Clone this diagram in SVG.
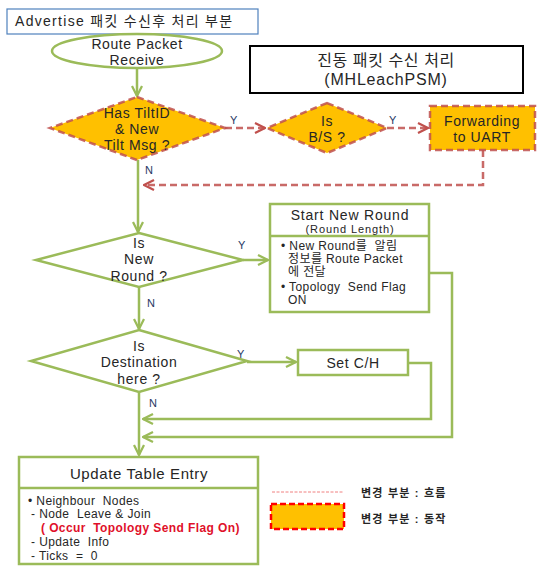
<svg xmlns="http://www.w3.org/2000/svg" width="538" height="566" viewBox="0 0 538 566">
  <defs>
    <style>
      text { font-family: "Liberation Sans", "Noto Sans CJK KR", sans-serif; fill: #262626; }
      .g { fill: #ffffff; stroke: #9bbb59; stroke-width: 2.5; }
      .gl { fill: none; stroke: #9bbb59; stroke-width: 2.5; }
      .chg { fill: #ffc000; stroke: #c0504d; stroke-width: 2.5; stroke-dasharray: 7 4; stroke-opacity: 0.85; }
      .dl { fill: none; stroke: #c0504d; stroke-width: 2.5; stroke-dasharray: 7 4; stroke-opacity: 0.85; }
      .t13 { font-size: 14px; letter-spacing: 0.6px; text-anchor: middle; }
      .lbl { font-size: 11px; fill: #1f3864; }
      .body { font-size: 12px; letter-spacing: 0.4px; white-space: pre; }
      .leg { font-size: 11px; font-weight: bold; letter-spacing: 1.2px; }
    </style>
    <marker id="ag" viewBox="0 0 10 10" refX="9" refY="5" markerWidth="5" markerHeight="5" orient="auto" markerUnits="strokeWidth">
      <path d="M1,1 L9,5 L1,9" fill="none" stroke="#9bbb59" stroke-width="1.8"/>
    </marker>
    <marker id="ar" viewBox="0 0 10 10" refX="9" refY="5" markerWidth="5" markerHeight="5" orient="auto" markerUnits="strokeWidth">
      <path d="M1,1 L9,5 L1,9" fill="none" stroke="#c0504d" stroke-width="1.8"/>
    </marker>
  </defs>

  <rect width="538" height="566" fill="#ffffff"/>

  <!-- section title -->
  <g id="title">
    <rect x="7" y="9" width="251" height="25" fill="#ffffff" stroke="#4f81bd" stroke-width="1.2"/>
    <text x="15" y="26" font-size="14" letter-spacing="1.3">Advertise 패킷 수신후 처리 부분</text>
  </g>

  <!-- module heading -->
  <g id="heading">
    <rect x="250" y="46" width="273" height="47" fill="#ffffff" stroke="#000000" stroke-width="2"/>
    <text x="386" y="66" font-size="16" letter-spacing="0.6" text-anchor="middle">진동 패킷 수신 처리</text>
    <text x="386" y="85" font-size="16" letter-spacing="0.8" text-anchor="middle">(MHLeachPSM)</text>
  </g>

  <!-- connectors -->
  <g id="connectors">
    <line class="gl" x1="137" y1="69" x2="137" y2="96" marker-end="url(#ag)"/>
    <line class="dl" x1="225" y1="128" x2="265" y2="128" marker-end="url(#ar)"/>
    <line class="dl" x1="387" y1="128" x2="428" y2="128" marker-end="url(#ar)"/>
    <polyline class="dl" points="483,150 483,185 144,185" marker-end="url(#ar)"/>
    <line class="gl" x1="138" y1="160" x2="138" y2="232" marker-end="url(#ag)"/>
    <line class="gl" x1="243" y1="260" x2="268" y2="260" marker-end="url(#ag)"/>
    <line class="gl" x1="139" y1="287" x2="139" y2="329" marker-end="url(#ag)"/>
    <line class="gl" x1="247" y1="362" x2="296" y2="362" marker-end="url(#ag)"/>
    <polyline class="gl" points="408,363 431,363 431,419 143,419" marker-end="url(#ag)"/>
    <polyline class="gl" points="429,273 452,273 452,437 143,437" marker-end="url(#ag)"/>
    <line class="gl" x1="139" y1="392" x2="139" y2="455" marker-end="url(#ag)"/>
    <text class="lbl" x="230" y="124">Y</text>
    <text class="lbl" x="389" y="124">Y</text>
    <text class="lbl" x="145" y="174">N</text>
    <text class="lbl" x="238" y="249">Y</text>
    <text class="lbl" x="147" y="307">N</text>
    <text class="lbl" x="237" y="358">Y</text>
    <text class="lbl" x="149" y="407">N</text>
  </g>

  <!-- start -->
  <g id="route-packet-receive">
    <ellipse class="g" cx="137" cy="51" rx="85" ry="17"/>
    <text class="t13" x="137" y="49">Route Packet</text>
    <text class="t13" x="137" y="65">Receive</text>
  </g>

  <g id="has-tilt">
    <polygon class="chg" points="137,97 225,128 137,160 50,128"/>
    <text class="t13" x="137" y="118">Has TiltID</text>
    <text class="t13" x="137" y="134">&amp; New</text>
    <text class="t13" x="137" y="150">Tilt Msg ?</text>
  </g>

  <g id="is-bs">
    <polygon class="chg" points="327,103 387,128 327,153 267,128"/>
    <text class="t13" x="327" y="126">Is</text>
    <text class="t13" x="327" y="142">B/S ?</text>
  </g>

  <g id="forwarding">
    <rect class="chg" x="430" y="106" width="105" height="44"/>
    <text class="t13" x="482" y="126">Forwarding</text>
    <text class="t13" x="482" y="142">to UART</text>
  </g>

  <g id="is-new-round">
    <polygon class="g" points="139,233 243,260 139,287 36,260"/>
    <text class="t13" x="139" y="248">Is</text>
    <text class="t13" x="139" y="264">New</text>
    <text class="t13" x="139" y="281">Round ?</text>
  </g>

  <g id="start-new-round">
    <rect class="g" x="270" y="204" width="159" height="108"/>
    <line class="gl" x1="270" y1="236" x2="429" y2="236"/>
    <text x="350" y="220" font-size="14" letter-spacing="0.8" text-anchor="middle">Start New Round</text>
    <text x="350" y="233" font-size="11" letter-spacing="0.9" text-anchor="middle">(Round Length)</text>
    <text class="body" x="281" y="250">• New Round를  알림</text>
    <text class="body" x="288" y="263">정보를 Route Packet</text>
    <text class="body" x="288" y="276">에 전달</text>
    <text class="body" x="281" y="291">• Topology  Send Flag</text>
    <text class="body" x="288" y="304">ON</text>
  </g>

  <g id="is-destination">
    <polygon class="g" points="139,330 247,361 139,392 31,361"/>
    <text class="t13" x="139" y="351">Is</text>
    <text class="t13" x="139" y="367">Destination</text>
    <text class="t13" x="139" y="384">here ?</text>
  </g>

  <g id="set-ch">
    <rect class="g" x="298" y="350" width="110" height="25"/>
    <text class="t13" x="353" y="368">Set C/H</text>
  </g>

  <g id="update-table-entry">
    <rect class="g" x="19" y="457" width="239" height="107"/>
    <line class="gl" x1="19" y1="488" x2="258" y2="488"/>
    <text x="139" y="479" font-size="15" letter-spacing="0.6" text-anchor="middle">Update Table Entry</text>
    <text class="body" x="28" y="505">• Neighbour  Nodes</text>
    <text class="body" x="31" y="518">- Node  Leave &amp; Join</text>
    <text class="body" x="41" y="532" font-weight="bold" style="fill:#e0102a">( Occur  Topology Send Flag On)</text>
    <text class="body" x="31" y="546">- Update  Info</text>
    <text class="body" x="31" y="560">- Ticks  =  0</text>
  </g>

  <!-- legend -->
  <g id="legend">
    <line x1="272" y1="492" x2="343" y2="492" stroke="#f08080" stroke-width="1" stroke-dasharray="3 1.5"/>
    <text class="leg" x="361" y="497">변경 부분 : 흐름</text>
    <rect x="271" y="504" width="73" height="25" fill="#ffc000" stroke="#ff0000" stroke-width="2.5" stroke-dasharray="6 3"/>
    <text class="leg" x="361" y="523">변경 부분 : 동작</text>
  </g>
</svg>
